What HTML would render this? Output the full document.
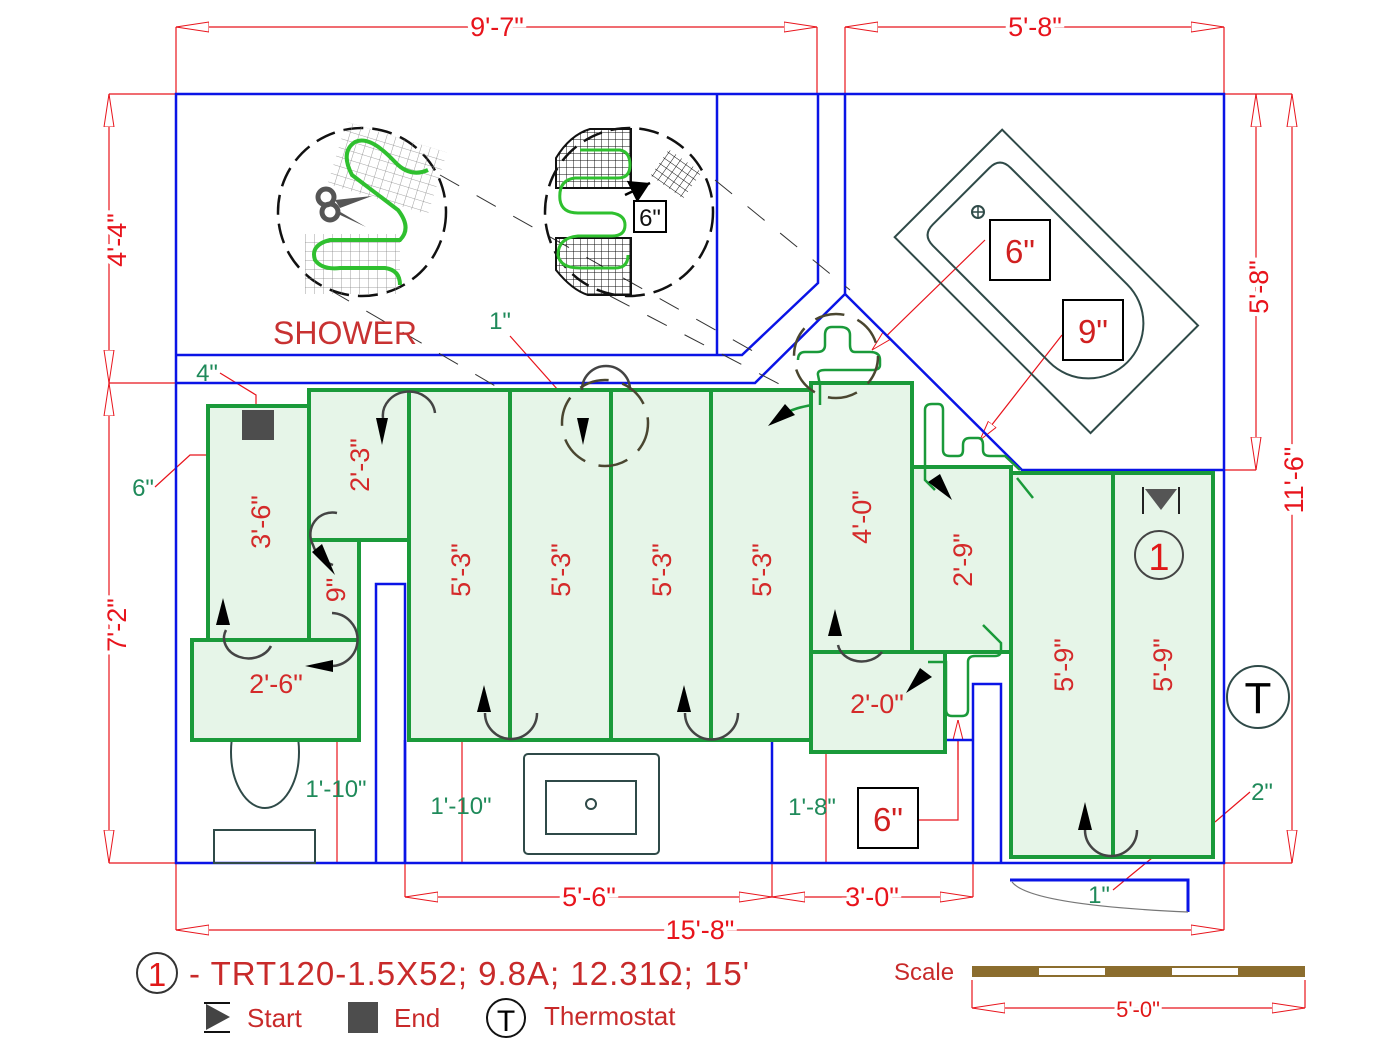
<!DOCTYPE html>
<html><head><meta charset="utf-8"><style>
html,body{margin:0;padding:0;background:#fff;}
svg{display:block;font-family:"Liberation Sans",sans-serif;}
</style></head><body>
<svg width="1400" height="1049" viewBox="0 0 1400 1049" xmlns="http://www.w3.org/2000/svg">
<defs>
<marker id="ah" viewBox="0 0 34 12" refX="33" refY="6" markerWidth="34" markerHeight="12" markerUnits="userSpaceOnUse" orient="auto-start-reverse">
<path d="M33,6 L0,1 L0,11 Z" fill="#fff" stroke="#e8141c" stroke-width="1"/></marker>
<marker id="sa" viewBox="0 0 20 12" refX="20" refY="6" markerWidth="20" markerHeight="12" markerUnits="userSpaceOnUse" orient="auto-start-reverse">
<path d="M20,6 L0,1 L0,11 Z" fill="#fff" stroke="#e8141c" stroke-width="1"/></marker>
<marker id="bk" viewBox="0 0 20 24" refX="20" refY="12" markerWidth="20" markerHeight="24" markerUnits="userSpaceOnUse" orient="auto">
<path d="M0,0 L20,12 L0,24 Z" fill="#000"/></marker>
<pattern id="g1" width="9" height="9" patternUnits="userSpaceOnUse"><path d="M9,0 V9 M0,9 H9" stroke="#888" stroke-width="0.8" fill="none"/></pattern>
<pattern id="g2" width="7" height="7" patternUnits="userSpaceOnUse"><path d="M7,0 V7 M0,7 H7" stroke="#111" stroke-width="1" fill="none"/></pattern>
</defs>

<!-- dimension lines -->
<g stroke="#e8141c" stroke-width="1.2" fill="none">
<path d="M176,27 V94 M817,27 V94 M845,27 V94 M1224,27 V94"/>
<line x1="176" y1="27" x2="817" y2="27" marker-start="url(#ah)" marker-end="url(#ah)"/>
<line x1="845" y1="27" x2="1224" y2="27" marker-start="url(#ah)" marker-end="url(#ah)"/>
<path d="M109,94 H176 M109,383 H176 M109,863 H176"/>
<line x1="109" y1="94" x2="109" y2="383" marker-start="url(#ah)" marker-end="url(#ah)"/>
<line x1="109" y1="383" x2="109" y2="863" marker-start="url(#ah)" marker-end="url(#ah)"/>
<path d="M1224,94 H1292 M1224,470 H1256 M1224,863 H1292"/>
<line x1="1256" y1="94" x2="1256" y2="470" marker-start="url(#ah)" marker-end="url(#ah)"/>
<line x1="1292" y1="94" x2="1292" y2="863" marker-start="url(#ah)" marker-end="url(#ah)"/>
<path d="M405,863 V897 M772,863 V897 M973,863 V897 M176,863 V930 M1224,863 V930"/>
<line x1="405" y1="897" x2="772" y2="897" marker-start="url(#ah)" marker-end="url(#ah)"/>
<line x1="772" y1="897" x2="973" y2="897" marker-start="url(#ah)" marker-end="url(#ah)"/>
<line x1="176" y1="930" x2="1224" y2="930" marker-start="url(#ah)" marker-end="url(#ah)"/>
<line x1="972" y1="1008" x2="1305" y2="1008" marker-start="url(#ah)" marker-end="url(#ah)"/>
<path d="M972,980 V1008 M1305,980 V1008"/>
<!-- small leaders -->
<path d="M337,740 V863 M462,740 V863 M826,752 V863"/>
<path d="M220,373 L256,395 V406 M155,487 L190,455 H208"/>
<path d="M510,336 L558,390"/>
<path d="M1113,890 L1152,858 M1215,822 L1250,792"/>
<path d="M918,820 H958 V720"/>
<line x1="985" y1="240" x2="872" y2="350" marker-end="url(#sa)"/>
<line x1="1062" y1="335" x2="980" y2="440" marker-end="url(#sa)"/>
<line x1="958" y1="760" x2="958" y2="720" marker-end="url(#sa)"/>
</g>
<g fill="#e8141c" font-size="27" text-anchor="middle">
<text x="497" y="36" stroke="#fff" stroke-width="8" style="paint-order:stroke">9'-7"</text>
<text x="1035" y="36" stroke="#fff" stroke-width="8" style="paint-order:stroke">5'-8"</text>
<text transform="translate(126,240) rotate(-90)" stroke="#fff" stroke-width="8" style="paint-order:stroke">4'-4"</text>
<text transform="translate(126,625) rotate(-90)" stroke="#fff" stroke-width="8" style="paint-order:stroke">7'-2"</text>
<text transform="translate(1268,287) rotate(-90)" stroke="#fff" stroke-width="8" style="paint-order:stroke">5'-8"</text>
<text transform="translate(1303,480) rotate(-90)" stroke="#fff" stroke-width="8" style="paint-order:stroke">11'-6"</text>
<text x="589" y="906" stroke="#fff" stroke-width="8" style="paint-order:stroke">5'-6"</text>
<text x="872" y="906" stroke="#fff" stroke-width="8" style="paint-order:stroke">3'-0"</text>
<text x="700" y="939" stroke="#fff" stroke-width="8" style="paint-order:stroke">15'-8"</text>
</g>

<!-- walls -->
<g stroke="#0a14e6" stroke-width="2.5" fill="none">
<rect x="176" y="94" width="1048" height="769"/>
<path d="M176,355 H742 L818,283 V94"/>
<path d="M717,94 V355"/>
<path d="M176,383 H755 L845,294 V94"/>
<path d="M845,294 L1022,470 H1224"/>
<path d="M376,863 V584 H405 V863"/>
<path d="M405,740 V863 M772,740 V863 M772,740 H973"/>
<path d="M973,863 V684 H1001 V863"/>
<path d="M1010,880 H1188 V912" stroke-width="3"/>
</g>
<path d="M1012,882 Q1030,905 1188,912" stroke="#777" fill="none" stroke-width="1.2"/>

<!-- shower dashed lines -->
<g stroke="#333" stroke-width="1" stroke-dasharray="22,20" fill="none">
<path d="M440,175 L760,355"/><path d="M330,290 L640,470"/>
<path d="M715,180 L850,290"/><path d="M610,296 L810,400"/>
</g>

<!-- fixtures -->
<g stroke="#2f4a48" stroke-width="2" fill="none">
<g transform="translate(1046,281) rotate(45)">
<rect x="-138" y="-76" width="277" height="152"/>
<path d="M-105,-55 H60 A55,55 0 0 1 60,55 H-105 Q-120,55 -120,40 V-40 Q-120,-55 -105,-55 Z"/>
</g>
<circle cx="978" cy="212" r="6"/>
<ellipse cx="265" cy="752" rx="34" ry="56"/>
<rect x="214" y="830" width="101" height="33"/>
<rect x="524" y="754" width="135" height="100" rx="4"/>
<rect x="546" y="781" width="90" height="53"/>
<circle cx="591" cy="804" r="5"/>
<circle cx="1258" cy="697" r="31"/>
</g>
<path d="M972,212 H984 M978,206 V218" stroke="#2f4a48" stroke-width="1.5"/>

<!-- heating tiles -->
<g fill="#e6f5e8" stroke="#1a9a3a" stroke-width="4">
<rect x="208" y="406" width="101" height="234"/>
<rect x="309" y="390" width="100" height="150"/>
<rect x="309" y="540" width="50" height="100"/>
<rect x="192" y="640" width="167" height="100"/>
<rect x="409" y="390" width="101" height="350"/>
<rect x="510" y="390" width="101" height="350"/>
<rect x="611" y="390" width="100" height="350"/>
<rect x="711" y="390" width="100" height="350"/>
<rect x="811" y="383" width="101" height="269"/>
<rect x="912" y="467" width="99" height="185"/>
<rect x="811" y="652" width="134" height="100"/>
<rect x="1011" y="473" width="102" height="384"/>
<rect x="1113" y="473" width="100" height="384"/>
</g>
<g stroke="#1a9a3a" stroke-width="2.5" fill="none">
<path d="M812,405 Q795,408 788,412"/>
<path d="M820,405 V385 M820,385 L818,375 Q817,370 825,370 H872 Q880,370 880,365 V360 Q880,352 870,352 H855 Q850,352 850,345 V335 Q850,327 840,327 H832 Q825,327 825,335 V345 Q825,352 817,352 H805 Q798,352 798,360"/>
<path d="M935,490 L925,480 V410 Q925,404 932,404 H938 Q943,404 943,410 V450 Q943,456 950,456 H958 Q963,456 963,450 V445 Q963,438 970,438 H978 Q983,438 983,445 V450 Q983,456 990,456 H1005 L1020,470"/>
<path d="M1017,478 L1033,498"/>
<path d="M983,625 L1001,643 V650 Q1001,656 995,656 H975 Q968,656 968,662 V710 Q968,716 962,716 H952 Q946,716 946,710 V662 H928"/>
</g>
<rect x="242" y="410" width="32" height="30" fill="#4d4d4d"/>

<!-- flow arcs and arrows -->
<g stroke="#444" stroke-width="2.5" fill="none">
<path d="M435,413 A24,22 0 0 0 383,418"/>
<path d="M337,513 A22,22 0 0 0 313,545 Q318,560 333,565"/>
<path d="M332,613 A24,24 0 0 1 330,666"/>
<path d="M271,646 A24,20 0 0 1 226,630"/>
<path d="M537,713 A26,26 0 0 1 485,713"/>
<path d="M738,713 A26,26 0 0 1 685,713"/>
<path d="M882,652 A24,20 0 0 1 838,645"/>
<path d="M1137,830 A26,26 0 0 1 1085,830"/>
<path d="M582,390 A22,22 0 0 1 630,390"/>
</g>
<g fill="#000">
<path d="M376,418 L388,418 L382,445 Z"/>
<path d="M577,418 L589,418 L583,445 Z"/>
<path d="M216,625 L230,625 L223,598 Z"/>
<path d="M477,712 L491,712 L484,685 Z"/>
<path d="M677,712 L691,712 L684,685 Z"/>
<path d="M828,636 L842,636 L835,609 Z"/>
<path d="M1078,830 L1092,830 L1085,802 Z"/>
<path d="M333,660 L333,672 L305,666 Z"/>
<path d="M312,552 L322,544 L335,575 Z"/>
<path d="M785,404 L795,415 L768,426 Z"/>
<path d="M928,482 L940,474 L952,500 Z"/>
<path d="M920,668 L932,677 L906,693 Z"/>
<path d="M1145,489 L1177,489 L1161,510 Z" fill="#555"/>
</g>
<path d="M1143,487 V514 M1179,487 V514" stroke="#222" stroke-width="2"/>

<!-- dashed detail circles -->
<g stroke="#111" stroke-width="2.5" fill="none" stroke-dasharray="20,9">
<circle cx="362" cy="212" r="84"/>
<circle cx="629" cy="212" r="84"/>
</g>
<g stroke="#4a4630" stroke-width="2.5" fill="none" stroke-dasharray="30,14">
<circle cx="605" cy="423" r="43"/>
<circle cx="836" cy="356" r="42"/>
</g>

<!-- detail 1 -->
<g>
<rect x="335" y="135" width="105" height="65" fill="url(#g1)" transform="rotate(17 385 167)"/>
<rect x="305" y="234" width="95" height="60" fill="url(#g1)"/>
<path d="M428,170 Q410,178 395,162 Q370,135 355,142 Q340,152 352,175 L398,210 Q412,228 400,240 H330 Q310,245 315,260 Q322,270 340,268 H385 Q400,270 400,285" stroke="#2fc02f" stroke-width="4" fill="none"/>
<g fill="#555"><circle cx="326" cy="197" r="8" fill="none" stroke="#555" stroke-width="5"/><circle cx="330" cy="212" r="8" fill="none" stroke="#555" stroke-width="5"/><path d="M335,200 L372,196 L340,208 Z M337,210 L366,227 L338,214 Z"/></g>
</g>
<!-- detail 2 -->
<g>
<path d="M556,188 V158 Q570,135 590,129 H631 V188 Z" fill="url(#g2)" stroke="#111" stroke-width="2"/>
<path d="M556,238 V270 Q572,290 588,295 H631 V238 Z" fill="url(#g2)" stroke="#111" stroke-width="2"/>
<rect x="656" y="158" width="40" height="32" fill="url(#g2)" transform="rotate(35 676 174)"/>
<path d="M580,150 H620 Q630,152 630,165 Q630,178 618,178 H575 Q558,180 560,200 Q562,213 578,213 H612 Q625,215 625,225 Q625,236 612,236 H578 Q558,238 558,255 Q560,268 580,268 H615 Q628,268 628,255" stroke="#2fc02f" stroke-width="3" fill="none"/>
<line x1="625" y1="195" x2="650" y2="183" stroke="#000" stroke-width="2.5" marker-end="url(#bk)"/>
<rect x="634" y="201" width="32" height="31" fill="#fff" stroke="#000" stroke-width="2"/>
<text x="650" y="226" font-size="24" text-anchor="middle" fill="#111">6"</text>
</g>

<!-- boxed labels -->
<g fill="#fff" stroke="#000" stroke-width="2">
<rect x="990" y="220" width="60" height="60"/>
<rect x="1063" y="300" width="60" height="60"/>
<rect x="858" y="788" width="60" height="60"/>
</g>
<g fill="#d02020" font-size="33" text-anchor="middle">
<text x="1020" y="263">6"</text>
<text x="1093" y="343">9"</text>
<text x="888" y="831">6"</text>
</g>

<!-- tile labels -->
<g fill="#d42a2a" font-size="27" text-anchor="middle">
<text transform="translate(270,522) rotate(-90)">3'-6"</text>
<text transform="translate(369,465) rotate(-90)">2'-3"</text>
<text transform="translate(345,590) rotate(-90)">9"</text>
<text x="276" y="693">2'-6"</text>
<text transform="translate(470,570) rotate(-90)">5'-3"</text>
<text transform="translate(570,570) rotate(-90)">5'-3"</text>
<text transform="translate(671,570) rotate(-90)">5'-3"</text>
<text transform="translate(771,570) rotate(-90)">5'-3"</text>
<text transform="translate(871,517) rotate(-90)">4'-0"</text>
<text transform="translate(972,560) rotate(-90)">2'-9"</text>
<text x="877" y="713">2'-0"</text>
<text transform="translate(1073,665) rotate(-90)">5'-9"</text>
<text transform="translate(1172,665) rotate(-90)">5'-9"</text>
<text x="345" y="344" font-size="32" fill="#c83232">SHOWER</text>
</g>
<circle cx="1159" cy="555" r="24" fill="none" stroke="#444" stroke-width="2"/>
<text x="1159" y="570" font-size="38" fill="#e01818" text-anchor="middle">1</text>
<text x="1258" y="713" font-size="44" text-anchor="middle" fill="#000">T</text>

<!-- green dims -->
<g fill="#1f8a5a" font-size="24" text-anchor="middle">
<text x="207" y="381">4"</text>
<text x="143" y="496">6"</text>
<text x="500" y="329">1"</text>
<text x="336" y="797">1'-10"</text>
<text x="461" y="814">1'-10"</text>
<text x="812" y="815">1'-8"</text>
<text x="1262" y="800">2"</text>
<text x="1099" y="903">1"</text>
</g>

<!-- legend -->
<circle cx="157" cy="973" r="20" fill="none" stroke="#333" stroke-width="2"/>
<text x="157" y="986" font-size="33" fill="#e01818" text-anchor="middle">1</text>
<text x="189" y="985" font-size="33" fill="#c82a2a" textLength="560">- TRT120-1.5X52; 9.8A; 12.31Ω; 15'</text>
<path d="M206,1004 L230,1017 L206,1030 Z" fill="#444"/>
<path d="M204,1003 H230 M204,1032 H230" stroke="#111" stroke-width="2"/>
<text x="247" y="1027" font-size="26" fill="#c82a2a">Start</text>
<rect x="348" y="1002" width="30" height="31" fill="#4d4d4d"/>
<text x="394" y="1027" font-size="26" fill="#c82a2a">End</text>
<circle cx="506" cy="1018" r="19" fill="none" stroke="#111" stroke-width="2"/>
<text x="506" y="1031" font-size="30" text-anchor="middle" fill="#000">T</text>
<text x="544" y="1025" font-size="26" fill="#c82a2a">Thermostat</text>
<text x="894" y="980" font-size="24" fill="#c82a2a">Scale</text>
<rect x="972" y="966" width="333" height="11" fill="#8b6d2e"/>
<rect x="1039" y="968" width="66" height="7" fill="#fff"/>
<rect x="1172" y="968" width="66" height="7" fill="#fff"/>
<text x="1138" y="1017" font-size="22" fill="#e01818" text-anchor="middle" stroke="#fff" stroke-width="6" style="paint-order:stroke">5'-0"</text>
</svg>
</body></html>
